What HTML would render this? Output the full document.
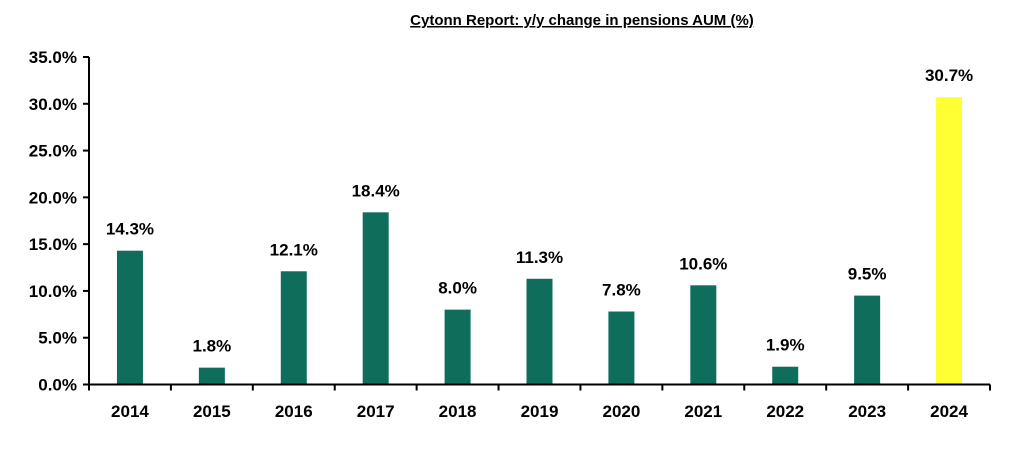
<!DOCTYPE html>
<html><head><meta charset="utf-8"><style>
body{margin:0;background:#fff;width:1022px;height:462px;overflow:hidden}
svg{font-family:"Liberation Sans",sans-serif;font-weight:bold}
</style></head><body>
<svg id="c" width="1022" height="462">
<text x="582" y="25" text-anchor="middle" font-size="15" text-decoration="underline">Cytonn Report: y/y change in pensions AUM (%)</text>
</svg>
<script>
const categories=["2014","2015","2016","2017","2018","2019","2020","2021","2022","2023","2024"];
const values=[14.3,1.8,12.1,18.4,8.0,11.3,7.8,10.6,1.9,9.5,30.7];
const yTicks=[0,5,10,15,20,25,30,35];
const svg=document.getElementById('c');const NS="http://www.w3.org/2000/svg";
const x0=89,x1=990,y0=384.5,yTop=57,yMax=35;
const bw=(x1-x0)/categories.length;
const y=v=>y0-(v/yMax)*(y0-yTop);
const xc=i=>x0+bw*(i+0.5);
function mk(t,a,txt){const e=document.createElementNS(NS,t);for(const k in a)e.setAttribute(k,a[k]);if(txt!==undefined)e.textContent=txt;svg.appendChild(e);return e;}
yTicks.forEach(t=>{
 const l=mk('line',{x1:x0-6,x2:x0,y1:y(t),y2:y(t),stroke:'#000','stroke-width':2});
 
 
 const tx=mk('text',{x:x0-12,y:y(t)+6,'text-anchor':'end','font-size':17},t.toFixed(1)+'%');
 
 
});
values.forEach((v,i)=>{
 const r=mk('rect',{x:xc(i)-13,y:y(v),width:26,height:y0-y(v),fill:i===10?'#ffff33':'#0e6d5b'});
 
 
 const t=mk('text',{x:xc(i),y:y(v)-16,'text-anchor':'middle','font-size':17},v.toFixed(1)+'%');
 
 
 const c=mk('text',{x:xc(i),y:417,'text-anchor':'middle','font-size':17},categories[i]);
 
 
});
for(let i=0;i<=categories.length;i++){
 const l=mk('line',{x1:x0+bw*i,x2:x0+bw*i,y1:y0,y2:y0+6,stroke:'#000','stroke-width':2});
 
 
}
const ya=mk('line',{x1:x0,x2:x0,y1:yTop,y2:y0+1,stroke:'#000','stroke-width':2});


const xa=mk('line',{x1:x0,x2:x1,y1:y0,y2:y0,stroke:'#000','stroke-width':2});


</script>
</body></html>
